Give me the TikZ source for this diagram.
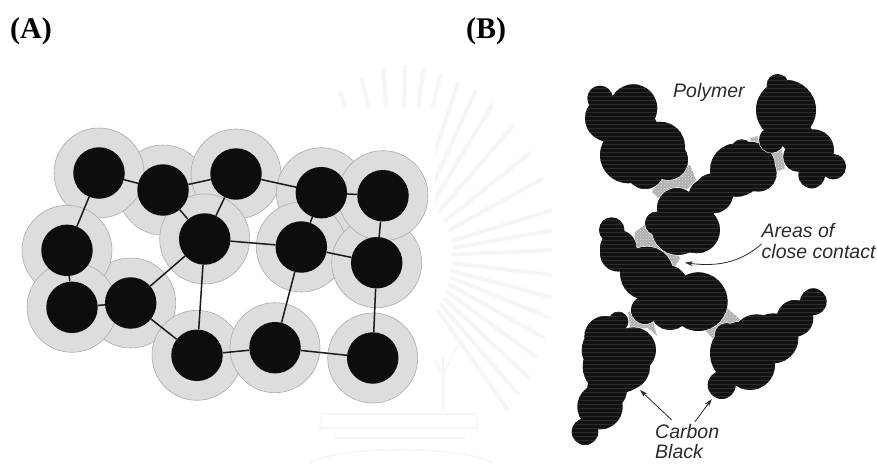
\documentclass[tikz,border=0pt]{standalone}
\usepackage{fontspec}
\setmainfont{Liberation Serif}
\setsansfont{Liberation Sans}
\usetikzlibrary{arrows.meta,patterns}
\definecolor{halofill}{HTML}{DDDDDD}
\definecolor{haloedge}{HTML}{ABABAB}
\definecolor{ink}{HTML}{121212}
\definecolor{scan}{HTML}{2C2C2C}
\definecolor{crest}{HTML}{F5F5F5}
\definecolor{labelink}{HTML}{2A2A2A}
\tikzset{
  halo/.style={circle,draw=haloedge,fill=halofill,line width=0.6pt,minimum size=90pt,inner sep=0pt},
  core/.style={circle,fill=black!95,minimum size=51.5pt,inner sep=0pt},
  bond/.style={line width=1.5pt,black!90},
  panel/.style={font=\bfseries\fontsize{30}{32}\selectfont,text=black,inner sep=0pt},
  tag/.style={font=\sffamily\itshape\fontsize{19.5}{21}\selectfont,text=labelink,inner sep=0pt,anchor=base west},
  pointer/.style={line width=0.8pt,labelink,-{Stealth[length=8pt,width=5pt]}},
  contact/.style={fill=gray!62,postaction={pattern=crosshatch dots,pattern color=gray!25}},
  ray/.style={crest,line width=4pt,line cap=round},
  crestline/.style={crest,line width=1.6pt}
}
% Union of overlapping discs: thin white rim, dark body, horizontal scan lines
\newcommand{\lump}[1]{%
  \draw[white,line width=1.2pt] #1;
  \fill[ink] #1;
  \begin{scope}
    \clip #1;
    \foreach \yy in {60,64,...,456} {\draw[scan,line width=0.7pt] (560,\yy) -- (860,\yy);}
  \end{scope}}
\begin{document}
\begin{tikzpicture}[x=1pt,y=-1pt]
\useasboundingbox (0,0) rectangle (877,463);

% Faint crest behind the two panels
\begin{scope}
  \clip (300,50) rectangle (552,463);
  \foreach \dx/\dy in {130/-104,152/-47,152/-7,150/40,143/80,128/120,108/153,92/-152,58/-174,23/-187,-17/-187,-60/-164,112/-130,142/-78,155/-27,153/18,148/60,136/100,118/137,75/-165,40/-182,5/-190,-38/-178} {
    \draw[ray] (400+0.35*\dx,257+0.35*\dy) -- (400+\dx,257+\dy);
  }
  \draw[crestline] (322,414) -- (476,414) -- (478,428) -- (320,428) -- cycle;
  \draw[crestline] (335,438) -- (465,438);
  \draw[crestline] (310,463) .. controls (340,445) and (460,445) .. (493,463);
  \draw[crestline] (443,410) -- (443,355) (443,375) -- (458,345) (443,375) -- (430,350);
\end{scope}
\fill[white] (0,108) rectangle (435,411);

% Panel A: filler particles with their shells
\foreach \nm/\px/\py in {b/163/190,c/236/174,a/99/173,d/321.3/192.7,h/301.3/247,i/376.7/262.7,e/383/195.7,g/204.7/239,k/130.7/303,f/67/250.3,j/72/307.3,l/197/355.3,m/275/347.7,n/372.7/358} {
  \node[halo] (s\nm) at (\px,\py) {};
}
\foreach \nm in {a,b,c,d,e,f,g,h,i,j,k,l,m,n} {
  \node[core] (\nm) at (s\nm) {};
}
\foreach \p/\q in {a/b,b/c,c/d,d/e,a/f,f/j,j/k,k/g,k/l,b/g,c/g,g/h,h/d,h/i,e/i,g/l,h/m,i/n,l/m,m/n} {
  \draw[bond] (\p) -- (\q);
}

% Panel B: contact zones sit under the aggregates
\fill[contact] (652,192) -- (662,172) -- (690,165) -- (696,180) -- (684,192) -- (670,197) -- (660,200) -- cycle;
\fill[contact] (750,138.3) -- (757.3,136) -- (763.3,150) -- (781.7,148.3) -- (785,168.3) -- (776.7,171.7) -- (756.7,156.7) -- cycle;
\fill[contact] (635,232) -- (645,225) -- (668,235) -- (680,258) -- (675,267) -- (660,262) -- (640,255) -- (634,248) -- cycle;
\fill[contact] (628,312) -- (650,310) -- (657,336) -- (648,328) -- (638,328) -- (631,334) -- cycle;
\fill[contact] (708,312) -- (727,308) -- (743,322) -- (716,342) -- (705,330) -- cycle;

% Top-left aggregate
\lump{(600,98.3) circle (12.7) (633.3,108.3) circle (24) (608.3,118.3) circle (23.3) (631.7,131.7) circle (26.7) (660,146.7) circle (25) (628.3,155) circle (28.3) (668,160) circle (20) (645,170) circle (19)}
% Upper middle aggregate
\lump{(677,208) circle (20) (706.7,196.7) circle (18.3) (713.3,193.3) circle (20) (736.7,170) circle (26.7) (750,166.7) circle (25) (741.7,150) circle (10.7) (758.3,173.3) circle (18.3) (696.7,230) circle (23.3) (678.3,228.3) circle (26.7) (656.7,223.3) circle (11.7)}
% Top-right aggregate
\lump{(777.7,85) circle (11) (786,110) circle (30) (771.7,140) circle (12.7) (796.7,136.7) circle (16.7) (813.3,150) circle (20.7) (833.3,166.7) circle (12.7) (811.7,175) circle (13.3) (798.3,156.7) circle (15)}
% Central aggregate
\lump{(611.7,230) circle (12.7) (618.3,248.3) circle (18.3) (618.3,253.3) circle (18.3) (646.7,273.3) circle (26.7) (666.7,286.7) circle (21.7) (698.3,301.7) circle (29.3) (645,310) circle (14) (670,310) circle (20)}
% Lower-left aggregate
\lump{(618.3,321.7) circle (10) (605,336.7) circle (20.7) (606.7,350) circle (25) (633.3,350) circle (22.7) (620,365) circle (28) (610,366.7) circle (27.3) (626.7,366.7) circle (23.3) (607,390) circle (20) (600,406.7) circle (22.7) (585,431.7) circle (13.3)}
% Lower-right aggregate
\lump{(813.3,301.7) circle (13.3) (795,318.3) circle (18.3) (773.3,338.3) circle (25) (756.7,339.3) circle (25) (741.7,353.3) circle (31.7) (726.7,335) circle (12) (750,365) circle (25) (721.7,385) circle (14)}

% Labels
\node[panel] (lblA) at (31,31) {(A)};
\node[panel] (lblB) at (486,31) {(B)};
\node[tag] (poly) at (673,97) {Polymer};
\node[tag] (areas) at (761.5,237) {Areas of};
\node[tag] (close) at (761.5,258) {close contact};
\node[tag] (carbon) at (655,438) {Carbon};
\node[tag] (black) at (655,458) {Black};

% Pointers
\coordinate (ccEnd) at (685,262.7);
\coordinate (ccStart) at (761.7,244);
\coordinate (cbA) at (640,390);
\coordinate (cbB) at (711.7,399);
\coordinate (cbAs) at (671.7,420);
\coordinate (cbBs) at (695,421.7);
\draw[pointer] (ccStart) .. controls (745,258) and (725,268) .. (ccEnd);
\draw[pointer] (cbAs) -- (cbA);
\draw[pointer] (cbBs) -- (cbB);
\end{tikzpicture}
\end{document}
